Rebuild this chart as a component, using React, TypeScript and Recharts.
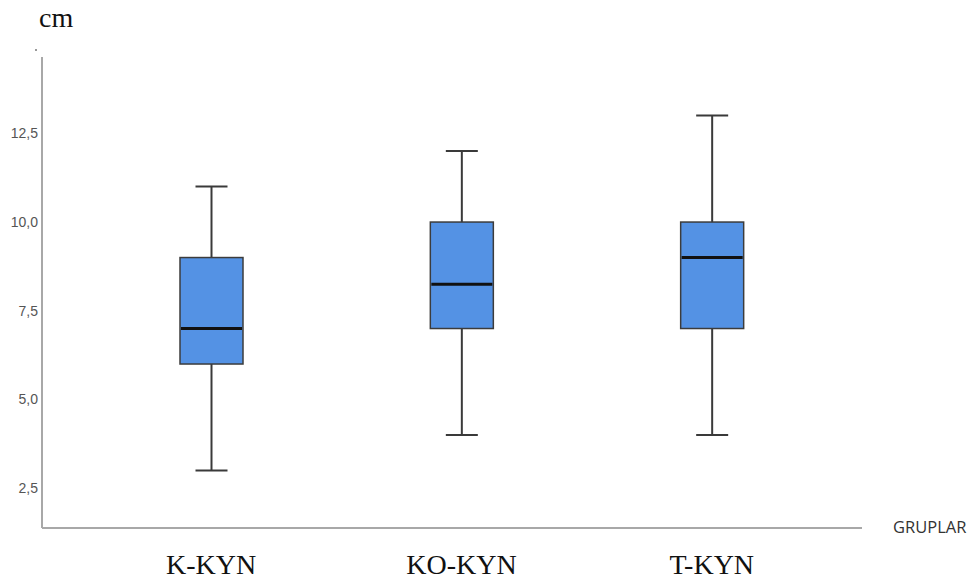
import { ComposedChart, Bar, XAxis, YAxis } from "recharts";

const groups = ["K-KYN", "KO-KYN", "T-KYN"];
const mins = [3, 4, 4];
const q1s = [6, 7, 7];
const medians = [7, 8.25, 9];
const q3s = [9, 10, 10];
const maxs = [11, 12, 13];
const yTicks = [2.5, 5, 7.5, 10, 12.5];

const data = groups.map((g, i) => ({
  name: g,
  range: [mins[i], maxs[i]],
  min: mins[i],
  q1: q1s[i],
  median: medians[i],
  q3: q3s[i],
  max: maxs[i],
}));

// box shape drawn inside the [min, max] range bar
const BoxShape = (props: any) => {
  const { x, y, width, height, payload } = props;
  const k = height / (payload.max - payload.min);
  const yOf = (v: number) => y + (payload.max - v) * k;
  const cx = x + width / 2;
  const cap = 16;
  return (
    <g>
      <line x1={cx} x2={cx} y1={yOf(payload.max)} y2={yOf(payload.q3)} stroke="#3a3a3a" strokeWidth={2} />
      <line x1={cx} x2={cx} y1={yOf(payload.q1)} y2={yOf(payload.min)} stroke="#3a3a3a" strokeWidth={2} />
      <line x1={cx - cap} x2={cx + cap} y1={yOf(payload.max)} y2={yOf(payload.max)} stroke="#3a3a3a" strokeWidth={2} />
      <line x1={cx - cap} x2={cx + cap} y1={yOf(payload.min)} y2={yOf(payload.min)} stroke="#3a3a3a" strokeWidth={2} />
      <rect
        x={x}
        y={yOf(payload.q3)}
        width={width}
        height={yOf(payload.q1) - yOf(payload.q3)}
        fill="#5492e4"
        stroke="#3c3c3c"
        strokeWidth={1.5}
      />
      <line x1={x + 1} x2={x + width - 1} y1={yOf(payload.median)} y2={yOf(payload.median)} stroke="#111" strokeWidth={3} />
    </g>
  );
};

const GroupTick = (props: any) => {
  const { x, y, payload } = props;
  return (
    <text x={x} y={y + 38} textAnchor="middle" fontFamily="'Liberation Serif', serif" fontSize={28} fill="#111">
      {payload.value}
    </text>
  );
};

export default function App() {
  return (
    <div style={{ position: "absolute", left: 0, top: 0, width: 980, height: 581, background: "#fff" }}>
      <div style={{ position: "absolute", left: 39, top: 2, fontFamily: "'Liberation Serif', serif", fontSize: 28, lineHeight: "32px", color: "#111" }}>
        cm
      </div>
      <div style={{ position: "absolute", left: 35, top: 49, width: 2, height: 2, background: "#999" }} />
      <div style={{ position: "absolute", left: 893, top: 516, fontFamily: "'Open Sans', sans-serif", fontSize: 16.5, lineHeight: "22px", color: "#333" }}>
        GRUPLAR
      </div>
      <ComposedChart width={980} height={581} data={data} margin={{ top: 57, right: 118, bottom: 0, left: 0 }}>
        <XAxis
          dataKey="name"
          height={53}
          padding={{ left: 44, right: 25 }}
          axisLine={{ stroke: "#a8a8a8", strokeWidth: 2 }}
          tickLine={false}
          tick={<GroupTick />}
          interval={0}
        />
        <YAxis
          type="number"
          domain={[1.38, 14.65]}
          ticks={yTicks}
          width={42}
          axisLine={{ stroke: "#a8a8a8", strokeWidth: 2 }}
          tickLine={false}
          tickSize={0}
          tickMargin={4}
          tick={{ fill: "#555", fontSize: 14, fontFamily: "'Liberation Sans', sans-serif" }}
          tickFormatter={(v: number) => v.toFixed(1).replace(".", ",")}
          allowDataOverflow
        />
        <Bar dataKey="range" barSize={63} shape={<BoxShape />} isAnimationActive={false} />
      </ComposedChart>
    </div>
  );
}
